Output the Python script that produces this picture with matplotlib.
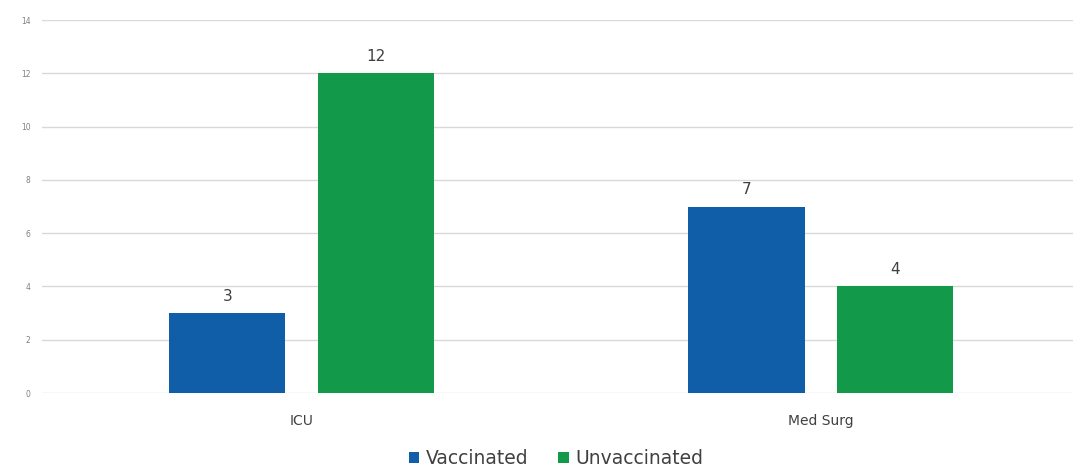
import numpy as np
import matplotlib.pyplot as plt

categories = ["ICU", "Med Surg"]
vaccinated = [3, 7]
unvaccinated = [12, 4]
yticks = [0, 2, 4, 6, 8, 10, 12, 14]

BLUE = "#105DA8"
GREEN = "#12994A"

fig = plt.figure(figsize=(10.73, 4.69), dpi=100)
ax = fig.add_axes([0.039, 0.162, 0.968, 0.795])

x = np.arange(len(categories))
w = 0.224
off = 0.143
b1 = ax.bar(x - off, vaccinated, w, color=BLUE, label="Vaccinated", zorder=3)
b2 = ax.bar(x + off, unvaccinated, w, color=GREEN, label="Unvaccinated", zorder=3)

for bars in (b1, b2):
    for r in bars:
        ax.text(r.get_x() + r.get_width() / 2, r.get_height() + 0.35, f"{r.get_height():g}",
                ha="center", va="bottom", fontsize=11, color="#404040")

ax.set_xlim(-0.5, 1.5)
ax.set_ylim(0, 14)
ax.set_yticks(yticks)
ax.set_yticklabels([str(t) for t in yticks], fontsize=5.5, color="#808080")
ax.set_xticks(x)
ax.set_xticklabels(categories, fontsize=10, color="#404040")
ax.tick_params(axis="both", length=0)
ax.tick_params(axis="y", pad=8)
ax.tick_params(axis="x", pad=15)
ax.grid(axis="y", color="#D9D9D9", linewidth=1, zorder=0)
for s in ax.spines.values():
    s.set_visible(False)

ax.legend(loc="center", bbox_to_anchor=(0.495, -0.176), ncol=2, frameon=False,
          fontsize=13.5, handlelength=0.55, handleheight=0.55, handletextpad=0.35,
          columnspacing=1.6, labelcolor="#404040", borderaxespad=0, borderpad=0)

fig.savefig("out.png", dpi=100)
